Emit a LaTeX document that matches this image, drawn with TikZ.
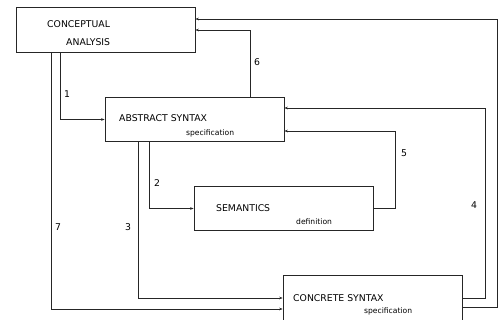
\documentclass[tikz,border=0pt]{standalone}
\usepackage{fontspec}
\setmainfont{DejaVu Sans}
\usetikzlibrary{arrows.meta}
\begin{document}
\begin{tikzpicture}[x=1pt,y=-1pt,
  box/.style={draw=black!85,line width=0.8pt,minimum width=179pt,minimum height=44.5pt,inner sep=0pt},
  big/.style={font=\fontsize{9.3}{11}\selectfont,inner sep=0pt,anchor=base west},
  small/.style={font=\fontsize{7.6}{9}\selectfont,inner sep=0pt,anchor=base west},
  lab/.style={font=\fontsize{9.3}{11}\selectfont,inner sep=0pt},
  arr/.style={draw=black!85,line width=0.7pt,-{Stealth[length=3.5pt,width=2.6pt]}}]
\useasboundingbox (0,0) rectangle (503,320);
\node[box] (ca) at (105.5,30) {};
\node[box] (as) at (194.5,119.5) {};
\node[box] (se) at (283.5,208.5) {};
\node[box,minimum height=50pt] (cs) at (372.5,300) {};
\node[big] (t1) at (47,27.5) {CONCEPTUAL};
\node[big] (t2) at (66,45.5) {ANALYSIS};
\node[big] (t3) at (119,121.5) {ABSTRACT SYNTAX};
\node[small] (t4) at (186,136) {specification};
\node[big] (t5) at (216,211.5) {SEMANTICS};
\node[small] (t6) at (296,225) {definition};
\node[big] (t7) at (293,301.5) {CONCRETE SYNTAX};
\node[small] (t8) at (364,313) {specification};
\draw[arr] ([xshift=45pt]ca.south west) |- (as.west);
\draw[arr] ([xshift=36pt]ca.south west) |- ([yshift=-9pt]cs.west);
\draw[arr] ([xshift=34pt]as.south west) |- ([yshift=2pt]cs.west);
\draw[arr] ([xshift=45pt]as.south west) |- (se.west);
\draw[arr] (se.east) -- ++(22,0) |- ([yshift=-11.5pt]as.east);
\draw[arr] ([yshift=2pt]cs.east) -- ++(23,0) |- ([yshift=11.5pt]as.east);
\draw[arr] ([xshift=-34pt]as.north east) |- (ca.east);
\draw[arr] ([yshift=-7pt]cs.east) -- ++(35,0) |- ([yshift=11pt]ca.east);
\node[lab] (l1) at (67,94) {1};
\node[lab] (l2) at (157,183) {2};
\node[lab] (l3) at (128,227) {3};
\node[lab] (l4) at (474,205) {4};
\node[lab] (l5) at (404,153) {5};
\node[lab] (l6) at (257,62) {6};
\node[lab] (l7) at (58,227) {7};
\end{tikzpicture}
\end{document}
